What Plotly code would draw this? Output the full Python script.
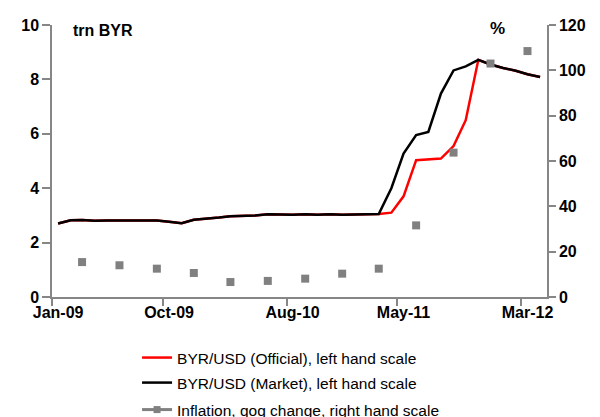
import pandas as pd
import plotly.graph_objects as go

# monthly data, Jan-2009 .. Apr-2012
months = pd.date_range("2009-01-01", periods=40, freq="MS")
official = [2.70, 2.82, 2.83, 2.80, 2.81, 2.81, 2.81, 2.81, 2.81, 2.77, 2.71, 2.84,
            2.87, 2.92, 2.97, 2.98, 3.00, 3.04, 3.02, 3.02, 3.04, 3.02, 3.04, 3.02,
            3.03, 3.04, 3.05, 3.10, 3.70, 5.03, 5.05, 5.09, 5.55, 6.50, 8.72, 8.55,
            8.42, 8.32, 8.19, 8.09]
market = [2.70, 2.82, 2.83, 2.80, 2.81, 2.81, 2.81, 2.81, 2.81, 2.77, 2.71, 2.84,
          2.87, 2.92, 2.97, 2.98, 3.00, 3.04, 3.02, 3.02, 3.04, 3.02, 3.04, 3.02,
          3.03, 3.04, 3.05, 4.00, 5.27, 5.95, 6.07, 7.48, 8.33, 8.48, 8.72, 8.55,
          8.42, 8.32, 8.19, 8.09]

# quarterly inflation (Mar-09 .. Mar-12), qoq change, %
quarters = pd.date_range("2009-03-01", periods=13, freq="3MS")
inflation = [15.4, 14.0, 12.5, 10.6, 6.6, 7.1, 8.1, 10.3, 12.5, 31.6, 63.7, 103.0, 108.5]

label_months = pd.to_datetime(["2009-01-01", "2009-10-01", "2010-08-01", "2011-05-01", "2012-03-01"])
label_text = ["Jan-09", "Oct-09", "Aug-10", "May-11", "Mar-12"]

half = pd.Timedelta(days=15)
FONT = "Liberation Sans, Arial, sans-serif"
AXIS = "#868686"

fig = go.Figure()
fig.add_trace(go.Scatter(x=months + half, y=official, mode="lines",
                         line=dict(color="#ff0000", width=2.5),
                         name="BYR/USD (Official), left hand scale", legend="legend"))
fig.add_trace(go.Scatter(x=months + half, y=market, mode="lines",
                         line=dict(color="#000000", width=2.5),
                         name="BYR/USD (Market), left hand scale", legend="legend2"))
fig.add_trace(go.Scatter(x=quarters + half, y=inflation, mode="markers", yaxis="y2",
                         marker=dict(symbol="square", size=8, color="#808080"),
                         showlegend=False))
# legend entry as drawn by the original (line + marker)
fig.add_trace(go.Scatter(x=[None], y=[None], mode="lines+markers", yaxis="y2",
                         line=dict(color="#808080", width=3),
                         marker=dict(symbol="square", size=7, color="#808080"),
                         name="Inflation, qoq change, right hand scale", legend="legend3"))

legend_common = dict(xref="container", yref="container", x=0.218,
                     xanchor="left", yanchor="middle",
                     font=dict(family=FONT, size=15.5, color="#000000"),
                     bgcolor="rgba(0,0,0,0)", borderwidth=0)

# the page adds an 8px body margin, so the figure is sized to fit inside it
fig.update_layout(
    width=592, height=409,
    margin=dict(l=44, r=53, t=17, b=120, autoexpand=False),
    paper_bgcolor="white", plot_bgcolor="white",
    font=dict(family=FONT, color="#000000"),
    xaxis=dict(
        type="date",
        range=[months[0], pd.Timestamp("2012-05-03")],
        tickmode="array", tickvals=label_months + half, ticktext=label_text,
        ticks="", showgrid=False, zeroline=False,
        showline=True, linecolor=AXIS, linewidth=1.5,
        tickfont=dict(family=FONT, size=16, weight="bold"),
        minor=dict(tickmode="array", tickvals=label_months, ticks="outside",
                   ticklen=7, tickcolor=AXIS, tickwidth=1.5, showgrid=False),
    ),
    yaxis=dict(
        range=[0, 10], dtick=2, showgrid=False, zeroline=False,
        showline=True, linecolor=AXIS, linewidth=1.5,
        ticks="outside", ticklen=8, tickcolor=AXIS, tickwidth=1.5,
        tickfont=dict(family=FONT, size=16, weight="bold"),
    ),
    yaxis2=dict(
        range=[0, 120], dtick=20, overlaying="y", side="right",
        showgrid=False, zeroline=False,
        showline=True, linecolor=AXIS, linewidth=1.5,
        ticks="outside", ticklen=7, tickcolor=AXIS, tickwidth=1.5,
        tickfont=dict(family=FONT, size=16, weight="bold"),
    ),
    legend=dict(y=0.1443, **legend_common),
    legend2=dict(y=0.0831, **legend_common),
    legend3=dict(y=0.0171, **legend_common),
    annotations=[
        dict(text="trn BYR", xref="paper", yref="paper", x=0.038, y=0.98,
             xanchor="left", yanchor="middle", showarrow=False,
             font=dict(family=FONT, size=16, weight="bold")),
        dict(text="%", xref="paper", yref="paper", x=0.901, y=0.988,
             xanchor="center", yanchor="middle", showarrow=False,
             font=dict(family=FONT, size=17, weight="bold")),
    ],
)

fig.write_html("out.html")
